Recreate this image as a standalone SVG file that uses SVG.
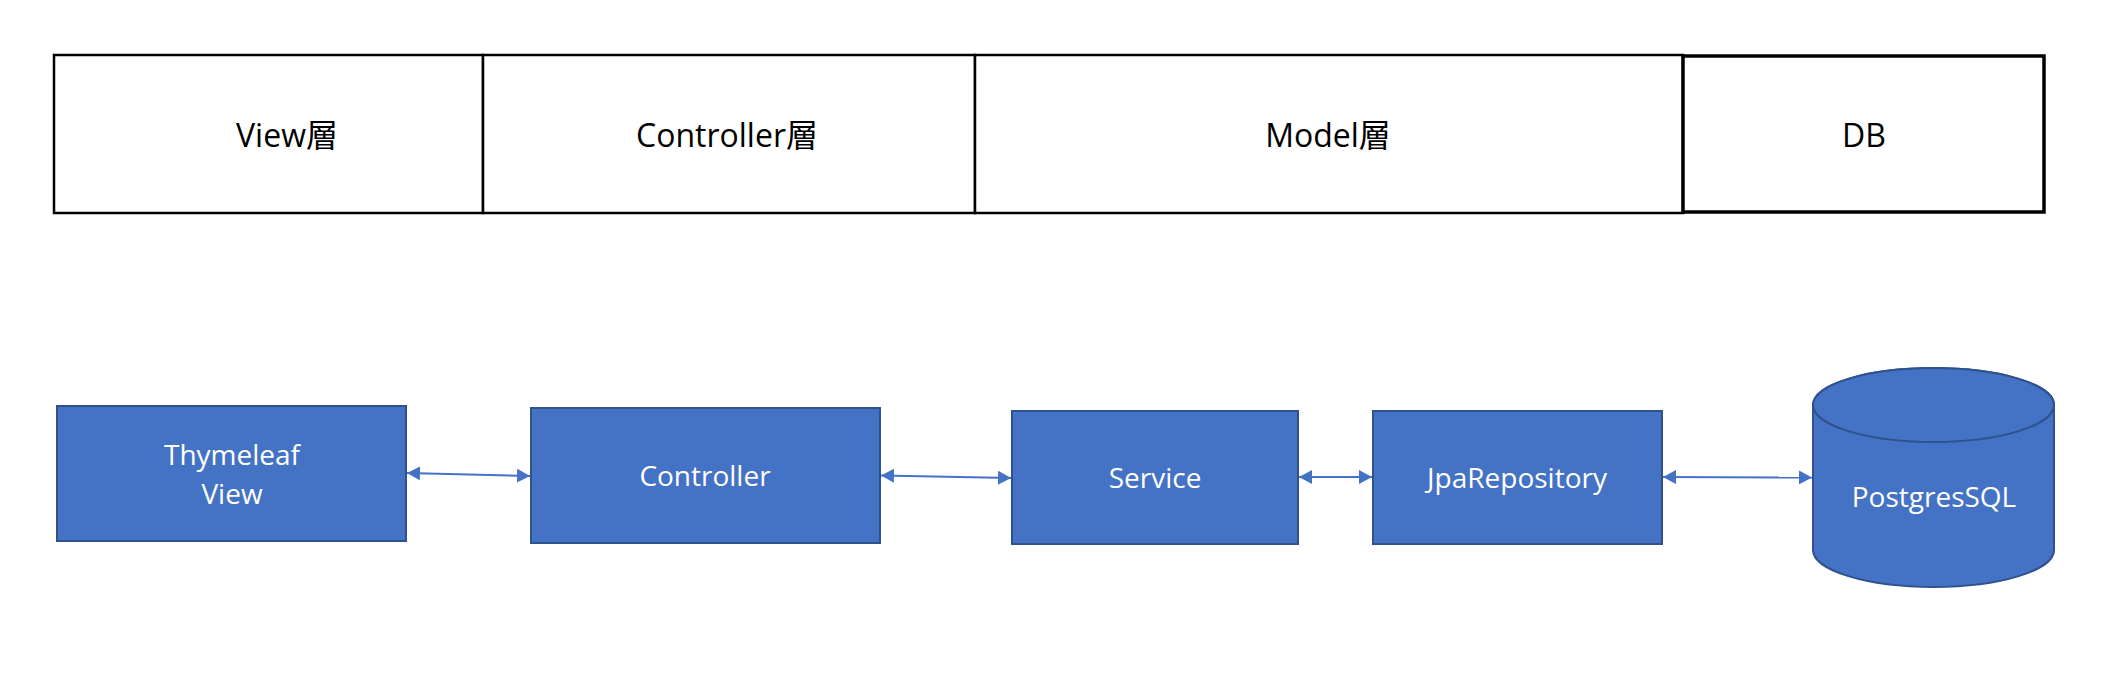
<svg xmlns="http://www.w3.org/2000/svg" width="2115" height="673" viewBox="0 0 2115 673">
<style>
.layer{fill:#ffffff;stroke:#000000;stroke-width:2.5}
.db{fill:#ffffff;stroke:#000000;stroke-width:3.5}
.lt{font-family:"Open Sans","Noto Sans CJK JP",sans-serif;font-size:32px;fill:#000000;text-anchor:middle}
.box{fill:#4472C4;stroke:#2F528F;stroke-width:2}
.bt{font-family:"Open Sans","Noto Sans CJK JP",sans-serif;font-size:28px;fill:#ffffff;text-anchor:middle}
.conn{stroke:#4472C4;stroke-width:2;fill:none;marker-start:url(#ah);marker-end:url(#ah)}
</style>
<defs>
<marker id="ah" markerUnits="userSpaceOnUse" markerWidth="14" markerHeight="14" refX="13" refY="7" orient="auto-start-reverse">
<path d="M0,0 L13,7 L0,14 Z" fill="#4472C4"/>
</marker>
</defs>
<rect width="2115" height="673" fill="#ffffff"/>
<g id="layer-view"><rect class="layer" x="54" y="55" width="429" height="158"/><text class="lt" x="287" y="147">View層</text></g>
<g id="layer-controller"><rect class="layer" x="483" y="55" width="492" height="158"/><text class="lt" x="727" y="147">Controller層</text></g>
<g id="layer-model"><rect class="layer" x="975" y="55" width="708" height="158"/><text class="lt" x="1328" y="147">Model層</text></g>
<g id="layer-db"><rect class="db" x="1683" y="56" width="361" height="156"/><text class="lt" x="1864" y="147">DB</text></g>
<g id="connectors">
<line class="conn" x1="407" y1="473" x2="530" y2="476"/>
<line class="conn" x1="881" y1="475.5" x2="1011" y2="478"/>
<line class="conn" x1="1299" y1="477" x2="1372" y2="477"/>
<line class="conn" x1="1663" y1="477" x2="1812" y2="477.5"/>
</g>
<g id="thymeleaf"><rect class="box" x="57" y="406" width="349" height="135"/><text class="bt" x="232" y="465">Thymeleaf</text><text class="bt" x="232" y="504">View</text></g>
<g id="controller"><rect class="box" x="531" y="408" width="349" height="135"/><text class="bt" x="705" y="486">Controller</text></g>
<g id="service"><rect class="box" x="1012" y="411" width="286" height="133"/><text class="bt" x="1155" y="488">Service</text></g>
<g id="jparepository"><rect class="box" x="1373" y="411" width="289" height="133"/><text class="bt" x="1517" y="488">JpaRepository</text></g>
<g id="postgres">
<path class="box" d="M1813,405 L1813,550 A120.5,37 0 0 0 2054,550 L2054,405 A120.5,37 0 0 0 1813,405 Z"/>
<ellipse class="box" cx="1933.5" cy="405" rx="120.5" ry="37"/>
<text class="bt" x="1934" y="507">PostgresSQL</text>
</g>
</svg>
